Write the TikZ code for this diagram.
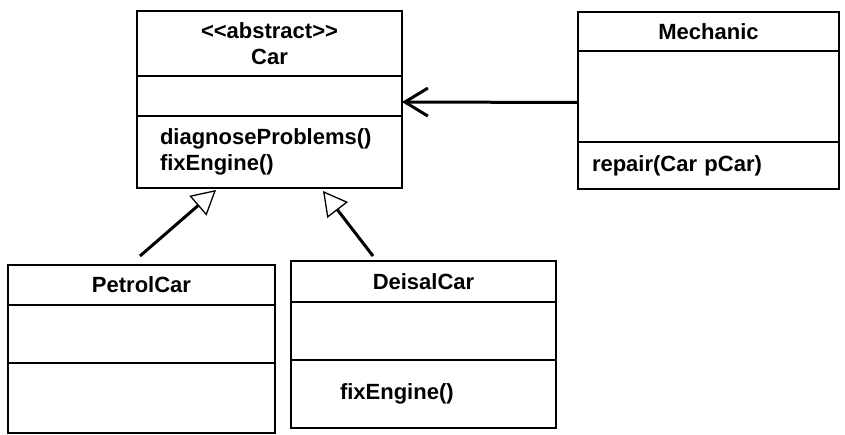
\documentclass[tikz,border=0pt]{standalone}
\usepackage{fontspec}
\setmainfont{Liberation Sans}
\usetikzlibrary{arrows.meta,positioning}
\tikzset{part/.style={draw,line width=1.5pt,inner sep=0pt,outer sep=0pt,align=center},
  ops/.style={part,align=left},
  gen/.style={-{Triangle[open,length=24pt,width=26pt,line width=1.3pt]},line width=3pt},
  assoc/.style={-{Straight Barb[length=23pt,width=28pt,line width=3pt]},line width=3pt}}

\begin{document}
\begin{tikzpicture}[x=1pt,y=1pt,font=\fontsize{22}{26}\selectfont\bfseries]
\useasboundingbox (0,0) rectangle (845,434);
% abstract base class
\node[part,minimum width=265pt,minimum height=65pt,anchor=north west] (car) at (137,423){<\kern0pt<abstract>\kern0pt>\\Car};
\node[part,minimum width=265pt,minimum height=40pt,below=0pt of car] (carA){};
\node[ops,minimum width=265pt,text width=219pt,minimum height=72pt,below=0pt of carA] (carM){diagnoseProblems()\\fixEngine()};
% mechanic
\node[part,minimum width=261pt,minimum height=39pt,anchor=north west] (mech) at (578,422){Mechanic};
\node[part,minimum width=261pt,minimum height=91pt,below=0pt of mech] (mechA){};
\node[ops,minimum width=261pt,text width=233pt,minimum height=47pt,below=0pt of mechA] (mechM){repair(Car pCar)};
% subclasses
\node[part,minimum width=267pt,minimum height=40pt,anchor=north west] (petrol) at (8,169){PetrolCar};
\node[part,minimum width=267pt,minimum height=58pt,below=0pt of petrol] (petrolA){};
\node[part,minimum width=267pt,minimum height=70pt,below=0pt of petrolA] (petrolM){};
\node[part,minimum width=265pt,minimum height=41pt,anchor=north west] (deisal) at (291,173){DeisalCar};
\node[part,minimum width=265pt,minimum height=58pt,below=0pt of deisal] (deisalA){};
\node[ops,minimum width=265pt,text width=167pt,minimum height=68pt,below=0pt of deisalA] (deisalM){fixEngine()};
% relations
\draw[assoc] ([yshift=-6pt]mechA.west)--([yshift=-6pt]carA.east);
\draw[gen] ([shift={(-1.5,9)}]petrol.north)--([shift={(-53.5,-2)}]carM.south);
\draw[gen] ([shift={(-50.5,5)}]deisal.north)--([shift={(53.5,-3)}]carM.south);
\end{tikzpicture}
\end{document}
